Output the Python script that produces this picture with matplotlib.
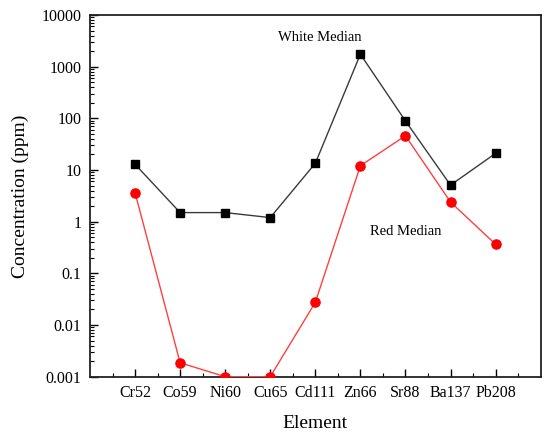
import matplotlib
matplotlib.use("Agg")
import matplotlib.pyplot as plt
from matplotlib.ticker import LogLocator, FixedLocator, NullFormatter

elements = ["Cr52", "Co59", "Ni60", "Cu65", "Cd111", "Zn66", "Sr88", "Ba137", "Pb208"]
white_median = [12.9, 1.5, 1.5, 1.2, 13.5, 1740, 89, 5.1, 21]
red_median = [3.65, 0.00186, 0.001, 0.001, 0.0275, 12.1, 46, 2.4, 0.365]

plt.rcParams['font.family'] = ['Liberation Serif', 'DejaVu Serif']

fig = plt.figure(figsize=(5.5, 4.36), dpi=100)
ax = fig.add_axes([0.1636, 0.136, 0.8194, 0.8296])

x = list(range(1, len(elements) + 1))
ax.plot(x, white_median, color='#3a3a3a', lw=1.0, marker='s', ms=6,
        mfc='black', mec='black', zorder=3)
ax.plot(x, red_median, color='#ff4040', lw=1.0, marker='o', ms=6.6,
        mfc='#ff0000', mec='#ff0000', zorder=3)

ax.set_yscale('log')
ax.set_ylim(0.001, 10000)
ax.set_xlim(0, 10)
ax.set_xticks(x)
ax.set_xticklabels(elements)
ax.xaxis.set_minor_locator(FixedLocator([i + 0.5 for i in range(0, 10)]))
ax.set_yticks([0.001, 0.01, 0.1, 1, 10, 100, 1000, 10000])
ax.set_yticklabels(["0.001", "0.01", "0.1", "1", "10", "100", "1000", "10000"])
ax.yaxis.set_minor_locator(LogLocator(base=10, subs=range(2, 10), numticks=20))
ax.yaxis.set_minor_formatter(NullFormatter())

ax.tick_params(which='major', direction='in', length=6, width=1.0, labelsize=11.5,
               top=False, right=False, pad=6)
ax.tick_params(which='minor', direction='in', length=3, width=0.8,
               top=False, right=False)
for s in ax.spines.values():
    s.set_linewidth(1.3)
    s.set_color('#222222')

ax.set_xlabel("Element", fontsize=14, labelpad=10)
ax.set_ylabel("Concentration (ppm)", fontsize=14, labelpad=9)

ax.text(5.1, 3600, "White Median", ha='center', va='center', fontsize=10.5)
ax.text(7.0, 0.64, "Red Median", ha='center', va='center', fontsize=10.5)

fig.savefig("out.png", dpi=100)
